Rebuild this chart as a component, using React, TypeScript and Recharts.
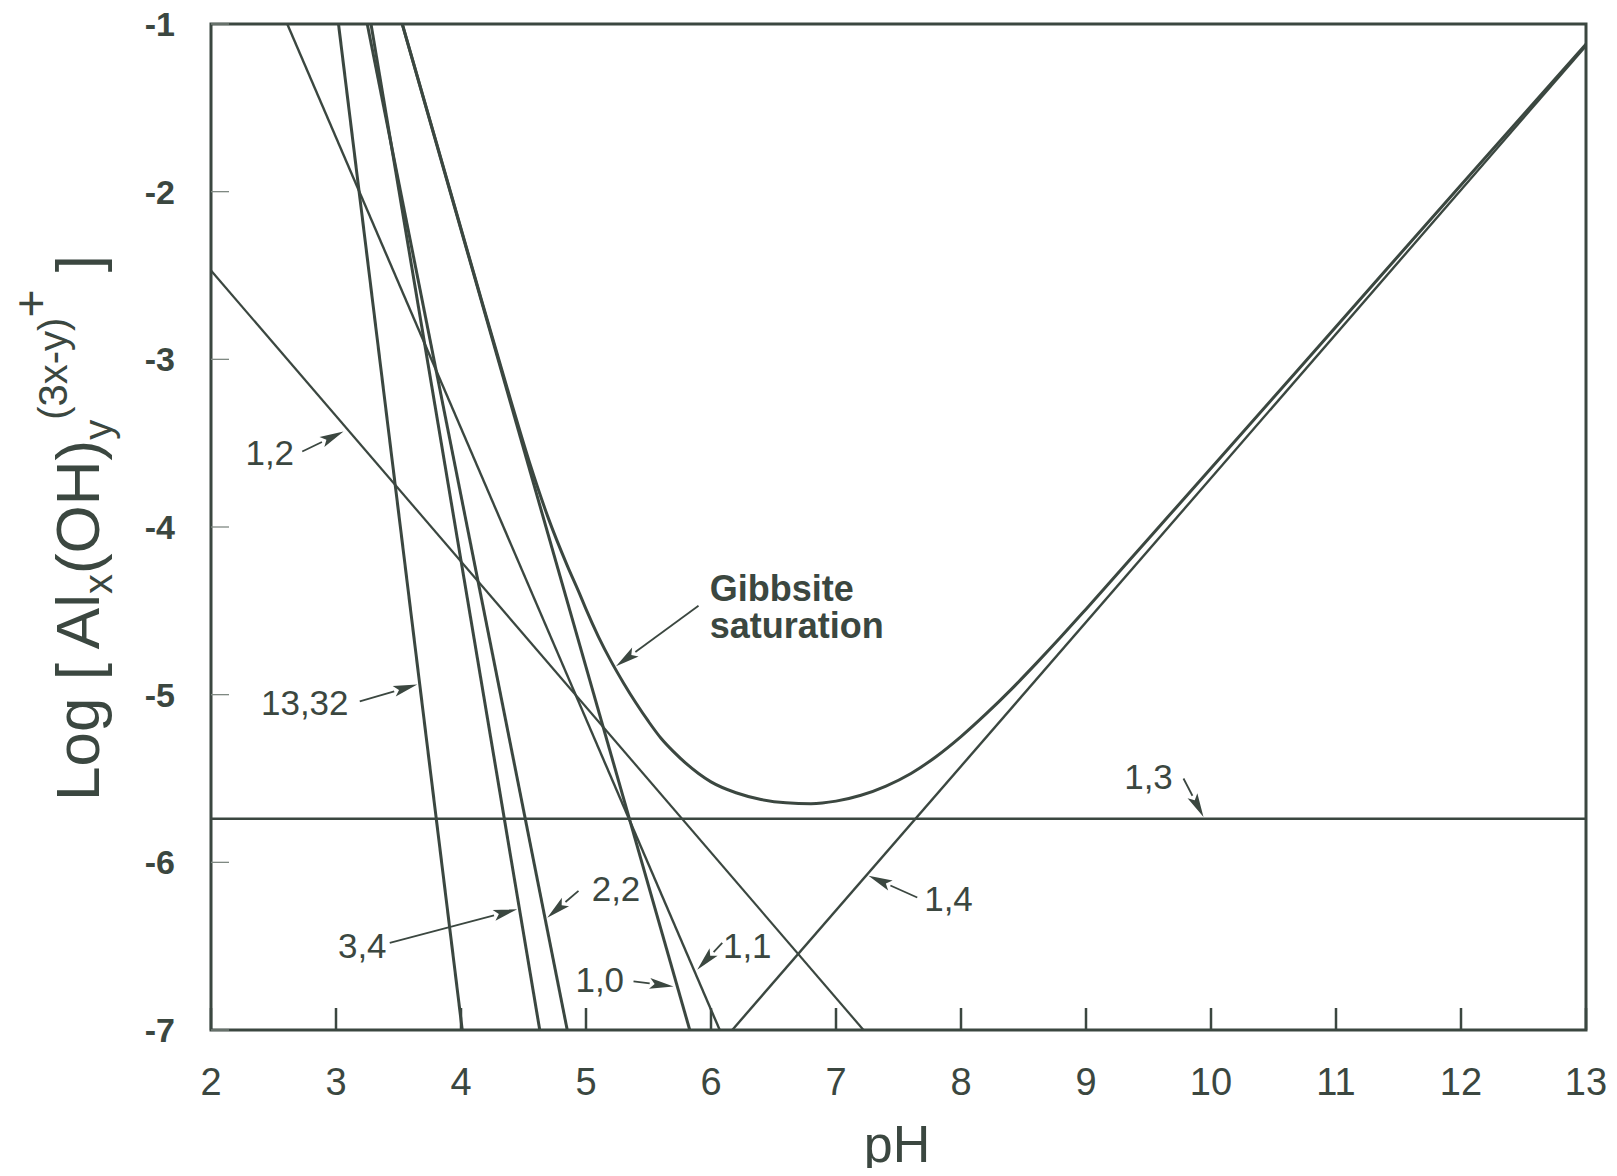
import { LineChart, Line, XAxis, YAxis, ReferenceLine, ReferenceDot, ReferenceArea } from 'recharts';

const INK = '#3b4740';
const FONT = '"Liberation Sans", Arial, Helvetica, sans-serif';

const phTicks = [2, 3, 4, 5, 6, 7, 8, 9, 10, 11, 12, 13];
const logTicks = [-1, -2, -3, -4, -5, -6, -7];

// species lines (x,y): pH, log activity
const al10 = [{ ph: 3.53, v: -1 }, { ph: 5.83, v: -7 }];
const al11 = [{ ph: 2.61, v: -1 }, { ph: 6.07, v: -7 }];
const al12 = [{ ph: 2, v: -2.47 }, { ph: 7.22, v: -7 }];
const al13 = [{ ph: 2, v: -5.74 }, { ph: 13, v: -5.74 }];
const al14 = [{ ph: 6.17, v: -7 }, { ph: 13, v: -1.13 }];
const al22 = [{ ph: 3.25, v: -1 }, { ph: 4.85, v: -7 }];
const al34 = [{ ph: 3.28, v: -1 }, { ph: 4.63, v: -7 }];
const al1332 = [{ ph: 3.02, v: -1 }, { ph: 4.01, v: -7 }];

// gibbsite saturation curve
const gibbsite = [
  { ph: 3.53, v: -1.0 },
  { ph: 3.8, v: -1.7 },
  { ph: 4.1, v: -2.48 },
  { ph: 4.4, v: -3.25 },
  { ph: 4.55, v: -3.62 },
  { ph: 4.7, v: -3.95 },
  { ph: 4.85, v: -4.23 },
  { ph: 4.95, v: -4.4 },
  { ph: 5.0, v: -4.49 },
  { ph: 5.1, v: -4.655 },
  { ph: 5.2, v: -4.8 },
  { ph: 5.3, v: -4.93 },
  { ph: 5.4, v: -5.05 },
  { ph: 5.5, v: -5.16 },
  { ph: 5.6, v: -5.26 },
  { ph: 5.7, v: -5.34 },
  { ph: 5.8, v: -5.41 },
  { ph: 5.9, v: -5.47 },
  { ph: 6.0, v: -5.52 },
  { ph: 6.2, v: -5.585 },
  { ph: 6.4, v: -5.625 },
  { ph: 6.6, v: -5.645 },
  { ph: 6.8, v: -5.65 },
  { ph: 7.0, v: -5.635 },
  { ph: 7.2, v: -5.6 },
  { ph: 7.4, v: -5.545 },
  { ph: 7.6, v: -5.47 },
  { ph: 7.8, v: -5.37 },
  { ph: 8.0, v: -5.25 },
  { ph: 8.2, v: -5.115 },
  { ph: 8.4, v: -4.97 },
  { ph: 8.6, v: -4.815 },
  { ph: 8.8, v: -4.655 },
  { ph: 9.0, v: -4.49 },
  { ph: 9.5, v: -4.07 },
  { ph: 10, v: -3.65 },
  { ph: 11, v: -2.805 },
  { ph: 12, v: -1.96 },
  { ph: 13, v: -1.12 },
];

const speciesLabels = [
  { text: '1,2', ph: 2.47, v: -3.56 },
  { text: '13,32', ph: 2.75, v: -5.05 },
  { text: '3,4', ph: 3.21, v: -6.5 },
  { text: '2,2', ph: 5.24, v: -6.16 },
  { text: '1,0', ph: 5.11, v: -6.7 },
  { text: '1,1', ph: 6.29, v: -6.5 },
  { text: '1,4', ph: 7.9, v: -6.22 },
  { text: '1,3', ph: 9.5, v: -5.49 },
];

const gibbsiteText = [
  { text: 'Gibbsite', ph: 5.99, v: -4.44 },
  { text: 'saturation', ph: 5.99, v: -4.665 },
];

const arrows = [
  { from: [2.73, -3.55], to: [3.06, -3.43] },
  { from: [3.19, -5.04], to: [3.65, -4.94] },
  { from: [3.43, -6.48], to: [4.45, -6.28] },
  { from: [4.94, -6.17], to: [4.69, -6.33] },
  { from: [5.38, -6.71], to: [5.7, -6.74] },
  { from: [6.09, -6.48], to: [5.89, -6.64] },
  { from: [7.65, -6.21], to: [7.26, -6.08] },
  { from: [9.78, -5.5], to: [9.94, -5.73] },
  { from: [5.9, -4.47], to: [5.24, -4.83] },
];

const ArrowShape = (p: any) => {
  const { x1, y1, x2, y2 } = p;
  const dx = x2 - x1;
  const dy = y2 - y1;
  const len = Math.sqrt(dx * dx + dy * dy) || 1;
  const ux = dx / len;
  const uy = dy / len;
  const hl = 24;
  const hw = 5.5;
  const bx = x2 - ux * hl;
  const by = y2 - uy * hl;
  return (
    <g>
      <line x1={x1} y1={y1} x2={bx} y2={by} stroke={INK} strokeWidth={1.8} />
      <polygon
        points={`${x2},${y2} ${bx - uy * hw},${by + ux * hw} ${bx + ux * 5},${by + uy * 5} ${bx + uy * hw},${by - ux * hw}`}
        fill={INK}
      />
    </g>
  );
};

const XTick = (props: any) => {
  const { x, y, payload } = props;
  return (
    <g>
      <line x1={x} y1={y} x2={x} y2={y - 22} stroke={INK} strokeWidth={2.5} />
      <text x={x} y={y + 65} textAnchor="middle" fontSize={38} fill={INK} fontFamily={FONT}>
        {payload.value}
      </text>
    </g>
  );
};

const YTick = (props: any) => {
  const { x, y, payload } = props;
  return (
    <g>
      <line x1={x} y1={y} x2={x + 18} y2={y} stroke="#7f8982" strokeWidth={1.3} />
      <text x={x - 36} y={y + 12} textAnchor="end" fontSize={34} fontWeight="bold" fill={INK} fontFamily={FONT}>
        {payload.value}
      </text>
    </g>
  );
};

const YLabel = () => (
  <text
    x={99}
    y={528}
    transform="rotate(-90, 99, 528)"
    textAnchor="middle"
    fontSize={62}
    fill={INK}
    fontFamily={FONT}
  >
    <tspan>Log [ Al</tspan>
    <tspan fontSize={40} dy={13}>x</tspan>
    <tspan dy={-13}>(OH)</tspan>
    <tspan fontSize={40} dy={13}>y</tspan>
    <tspan fontSize={40} dy={-45}>(3x-y)</tspan>
    <tspan fontSize={48} dy={-20}>+</tspan>
    <tspan dy={52}> ]</tspan>
  </text>
);

const XLabel = () => (
  <text x={897} y={1162} textAnchor="middle" fontSize={52} fill={INK} fontFamily={FONT}>
    pH
  </text>
);

const species = [
  { id: '1,0', data: al10, w: 3 },
  { id: '1,1', data: al11, w: 2.4 },
  { id: '1,2', data: al12, w: 2.2 },
  { id: '1,3', data: al13, w: 2.4 },
  { id: '1,4', data: al14, w: 2.4 },
  { id: '2,2', data: al22, w: 3 },
  { id: '3,4', data: al34, w: 3 },
  { id: '13,32', data: al1332, w: 3 },
];

export default function App() {
  return (
    <div style={{ background: '#fff', margin: -8, width: 1617, height: 1176 }}>
      <LineChart width={1617} height={1176} margin={{ top: 24, right: 31, bottom: 0, left: 0 }}>
        <XAxis
          dataKey="ph"
          type="number"
          domain={[2, 13]}
          ticks={phTicks}
          interval={0}
          allowDataOverflow
          axisLine={false}
          tickLine={false}
          tickSize={0}
          tickMargin={0}
          height={146}
          tick={(p: any) => <XTick {...p} />}
          label={{ content: () => <XLabel /> }}
        />
        <YAxis
          type="number"
          domain={[-7, -1]}
          ticks={logTicks}
          interval={0}
          allowDataOverflow
          axisLine={false}
          tickLine={false}
          tickSize={0}
          tickMargin={0}
          width={211}
          tick={(p: any) => <YTick {...p} />}
          label={{ content: () => <YLabel /> }}
        />
        <ReferenceArea x1={2} x2={13} y1={-7} y2={-1} fill="none" stroke={INK} strokeWidth={3} />
        {species.map((s) => (
          <Line
            key={s.id}
            data={s.data}
            dataKey="v"
            type="linear"
            stroke={INK}
            strokeWidth={s.w}
            dot={false}
            activeDot={false}
            isAnimationActive={false}
          />
        ))}
        <Line
          data={gibbsite}
          dataKey="v"
          type="monotone"
          stroke={INK}
          strokeWidth={3}
          dot={false}
          activeDot={false}
          isAnimationActive={false}
        />
        {arrows.map((a, i) => (
          <ReferenceLine
            key={'a' + i}
            segment={[{ x: a.from[0], y: a.from[1] }, { x: a.to[0], y: a.to[1] }]}
            shape={(p: any) => <ArrowShape {...p} />}
          />
        ))}
        {speciesLabels.map((l) => (
          <ReferenceDot
            key={l.text}
            x={l.ph}
            y={l.v}
            r={0}
            shape={(p: any) => (
              <text
                x={p.cx}
                y={p.cy + 12}
                textAnchor="middle"
                fontSize={35}
                fill={INK}
                fontFamily={FONT}
              >
                {l.text}
              </text>
            )}
          />
        ))}
        {gibbsiteText.map((l) => (
          <ReferenceDot
            key={l.text}
            x={l.ph}
            y={l.v}
            r={0}
            shape={(p: any) => (
              <text x={p.cx} y={p.cy} textAnchor="start" fontSize={36} fontWeight="bold" fill={INK} fontFamily={FONT}>
                {l.text}
              </text>
            )}
          />
        ))}
      </LineChart>
    </div>
  );
}
